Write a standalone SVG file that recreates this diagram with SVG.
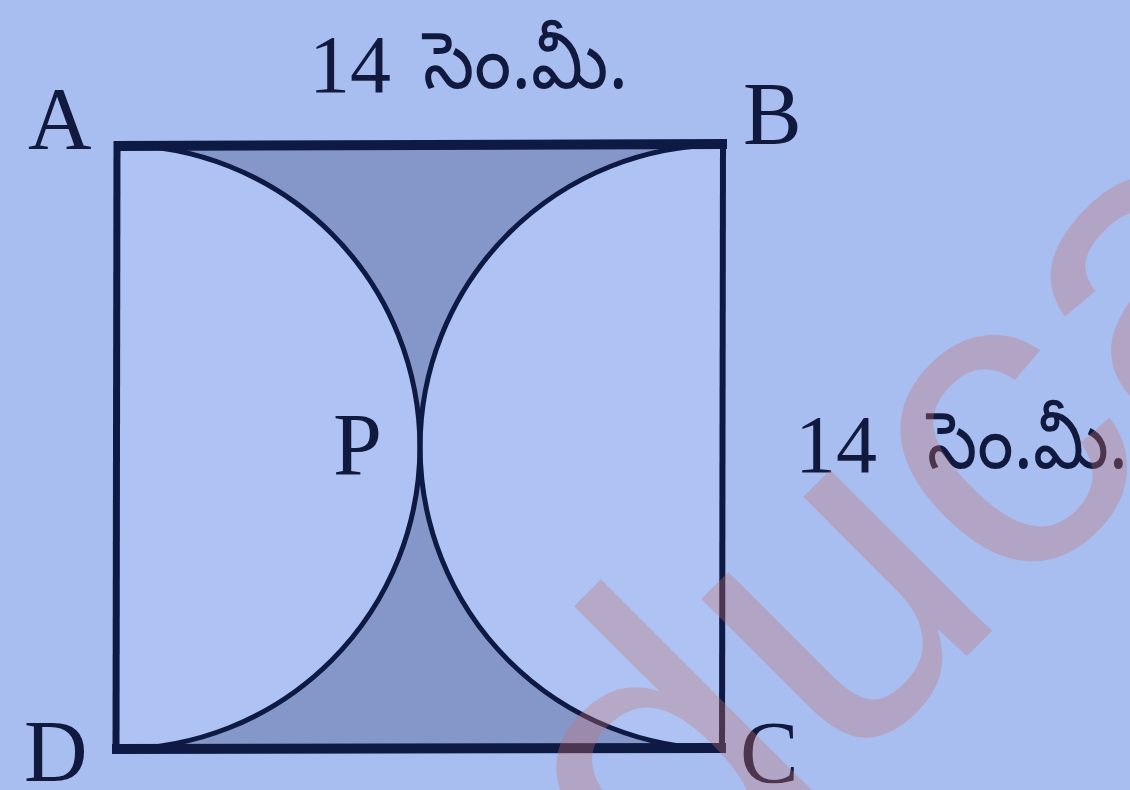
<svg xmlns="http://www.w3.org/2000/svg" width="1130" height="790" viewBox="0 0 1130 790">
  <style>
    .lbl { font-family: "Liberation Serif", "Times New Roman", serif; font-size: 88px; fill: #111a3e; }
    .num { font-family: "Liberation Serif", "Times New Roman", serif; font-size: 82px; fill: #111a3e; }
    .tel { font-family: "Noto Sans Telugu", "Noto Serif Telugu", "Gautami", "Liberation Serif", sans-serif; font-size: 80px; fill: #111a3e; }
    .edge { fill: none; stroke: #0e1a44; stroke-linejoin: miter; }
    .arc { fill: none; stroke: #0e1a44; stroke-width: 5; }
    .shade { fill: #8597c9; }
    .wm { font-family: "Liberation Sans", Arial, sans-serif; font-size: 432px; fill: #c8706c; fill-opacity: 0.33; }
  </style>
  <rect id="background" x="0" y="0" width="1130" height="790" fill="#a8bef0"/>
  <g id="square-figure">
    <rect id="square-fill" x="118" y="145" width="604" height="604" fill="#aec3f3"/>
    <g id="shaded-regions">
      <path id="shade-top" class="shade" d="M118,145 A302,302 0 0 1 420,447 A302,302 0 0 1 722,145 Z"/>
      <path id="shade-bottom" class="shade" d="M118,749 A302,302 0 0 0 420,447 A302,302 0 0 0 722,749 Z"/>
    </g>
    <g id="arcs">
      <path id="arc-AD" class="arc" d="M118,145 A302,302 0 0 1 118,749"/>
      <path id="arc-BC" class="arc" d="M722,145 A302,302 0 0 0 722,749"/>
    </g>
    <g id="sides">
      <line class="edge" x1="114" y1="146" x2="727" y2="144" stroke-width="10"/>
      <line class="edge" x1="117" y1="141" x2="116" y2="754" stroke-width="7"/>
      <line class="edge" x1="723" y1="139" x2="722" y2="753" stroke-width="6"/>
      <line class="edge" x1="112" y1="749" x2="726" y2="748" stroke-width="10"/>
    </g>
  </g>
  <g id="labels">
    <text id="label-A" class="lbl" x="28" y="148">A</text>
    <text id="label-B" class="lbl" x="743" y="143">B</text>
    <text id="label-P" class="lbl" x="333" y="474">P</text>
    <text id="label-D" class="lbl" x="24" y="781">D</text>
    <text id="label-C" class="lbl" x="740" y="782">C</text>
    <g id="label-top">
      <text class="num" x="309" y="92">14</text>
      <text class="tel" x="423" y="88" textLength="205" lengthAdjust="spacingAndGlyphs">సెం.మీ.</text>
    </g>
    <g id="label-right">
      <text class="num" x="795" y="472">14</text>
      <text class="tel" x="927" y="468" textLength="201" lengthAdjust="spacingAndGlyphs">సెం.మీ.</text>
    </g>
  </g>
  <g id="watermark">
    <text class="wm" transform="translate(673,950) rotate(-45)">duca</text>
  </g>
</svg>
